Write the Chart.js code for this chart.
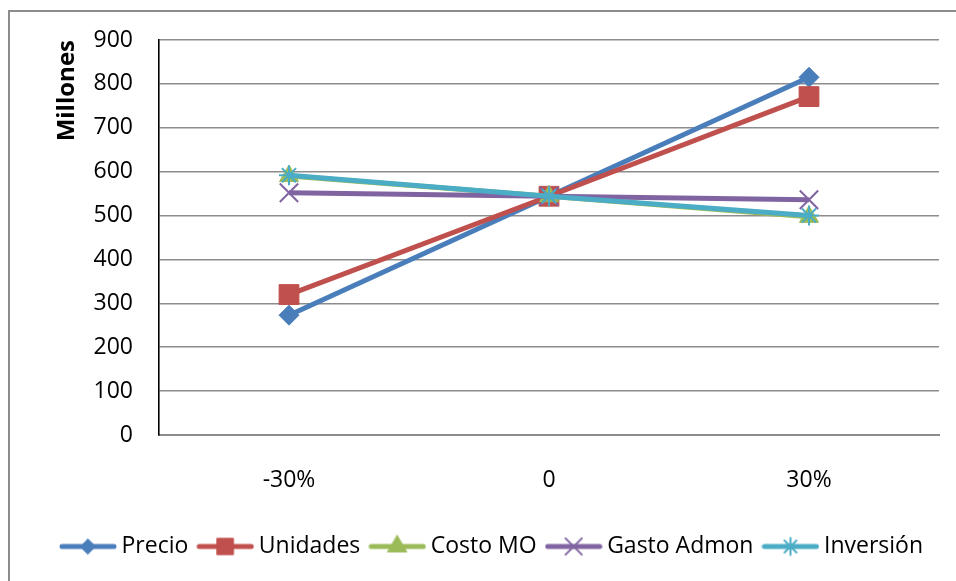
<!DOCTYPE html>
<html>
<head>
<meta charset="utf-8">
<script src="https://cdn.jsdelivr.net/npm/chart.js@4/dist/chart.umd.min.js"></script>
<style>
  html, body { margin: 0; padding: 0; background: #fff; overflow: hidden; }
  canvas { display: block; }
</style>
</head>
<body>
<canvas id="chart" width="956" height="581"></canvas>
<script>
// Sensitivity of the result (millions) to a ±30% change in each variable
const categories = ['-30%', '0', '30%'];
const precio     = [273, 544, 815];
const unidades   = [320, 544, 771];
const costoMO    = [590, 544, 497];
const gastoAdmon = [552, 544, 536];
const inversion  = [592, 544, 500];
const seriesNames = ['Precio', 'Unidades', 'Costo MO', 'Gasto Admon', 'Inversión'];
const yMin = 0, yMax = 900, yStep = 100;
const axisTitle = 'Millones';

const FONT = '"Open Sans", "Noto Sans", sans-serif';

const styles = [
  { color: '#4A7EBB', point: 'rectRot',  radius: 10, legendRadius: 7.5, pointBorder: 1 },
  { color: '#C0504D', point: 'rect',     radius: 14, legendRadius: 11.5, pointBorder: 1 },
  { color: '#9BBB59', point: 'triangle', radius: 11, legendRadius: 11, pointBorder: 1 },
  { color: '#8064A2', point: 'crossRot', radius: 13, legendRadius: 11.5, pointBorder: 2 },
  { color: '#4BACC6', point: 'star',     radius: 10, legendRadius: 8.5, pointBorder: 2 }
];
const seriesValues = [precio, unidades, costoMO, gastoAdmon, inversion];

// Legend symbol: a short line with the series marker in the middle
function legendSymbol(st) {
  const c = document.createElement('canvas');
  c.width = 58; c.height = 26;
  const g = c.getContext('2d');
  g.strokeStyle = st.color;
  g.lineWidth = 5;
  g.lineCap = 'round';
  g.beginPath();
  g.moveTo(3, 13); g.lineTo(55, 13);
  g.stroke();
  g.fillStyle = st.color;
  g.strokeStyle = st.color;
  g.lineWidth = st.pointBorder;
  Chart.helpers.drawPoint(g, { pointStyle: st.point, radius: st.legendRadius, rotation: 0, borderWidth: st.pointBorder }, 29, 13);
  return c;
}

const datasets = seriesNames.map((name, i) => ({
  label: name,
  data: seriesValues[i],
  borderColor: styles[i].color,
  backgroundColor: styles[i].color,
  borderWidth: 5,
  tension: 0,
  pointStyle: styles[i].point,
  pointRadius: styles[i].radius,
  pointHoverRadius: styles[i].radius,
  pointBackgroundColor: styles[i].color,
  pointBorderColor: styles[i].color,
  pointBorderWidth: styles[i].pointBorder,
  order: seriesNames.length - i
}));

const frame = {
  id: 'frame',
  afterDraw(chart) {
    const ctx = chart.ctx;
    ctx.save();
    ctx.strokeStyle = '#8c8c8c';
    ctx.lineWidth = 2;
    ctx.beginPath();
    ctx.moveTo(9, chart.height);
    ctx.lineTo(9, 11);
    ctx.lineTo(chart.width, 11);
    ctx.stroke();
    ctx.restore();
  }
};

new Chart(document.getElementById('chart'), {
  type: 'line',
  data: { labels: categories, datasets },
  plugins: [frame],
  options: {
    responsive: false,
    animation: false,
    devicePixelRatio: 1,
    layout: { padding: { left: 50, top: 40, right: 17, bottom: 13 } },
    plugins: {
      tooltip: { enabled: false },
      legend: {
        position: 'bottom',
        labels: {
          usePointStyle: true,
          pointStyleWidth: 44,
          padding: 15,
          color: '#000',
          font: { family: FONT, size: 23 },
          generateLabels(chart) {
            return chart.data.datasets.map((ds, i) => ({
              text: ds.label,
              pointStyle: legendSymbol(styles[i]),
              fillStyle: styles[i].color,
              strokeStyle: styles[i].color,
              lineWidth: 0,
              fontColor: '#000',
              hidden: false,
              datasetIndex: i
            }));
          }
        }
      }
    },
    scales: {
      x: {
        offset: true,
        grid: { display: false, drawTicks: false },
        border: { display: true, color: '#8c8c8c', width: 2 },
        ticks: { color: '#000', padding: 32, font: { family: FONT, size: 23 } },
        afterFit(scale) { scale.height = 85; }
      },
      y: {
        min: yMin,
        max: yMax,
        grid: { color: '#8c8c8c', lineWidth: 1.6, drawTicks: false },
        border: { display: true, color: '#000', width: 1.6 },
        ticks: { stepSize: yStep, color: '#000', padding: 26, font: { family: FONT, size: 23 } },
        title: {
          display: true,
          text: axisTitle,
          align: 'end',
          color: '#000',
          padding: { top: 3, bottom: 0 },
          font: { family: FONT, size: 24, weight: 'bold' }
        },
        afterFit(scale) { scale.width = 109; }
      }
    }
  }
});
</script>
</body>
</html>
